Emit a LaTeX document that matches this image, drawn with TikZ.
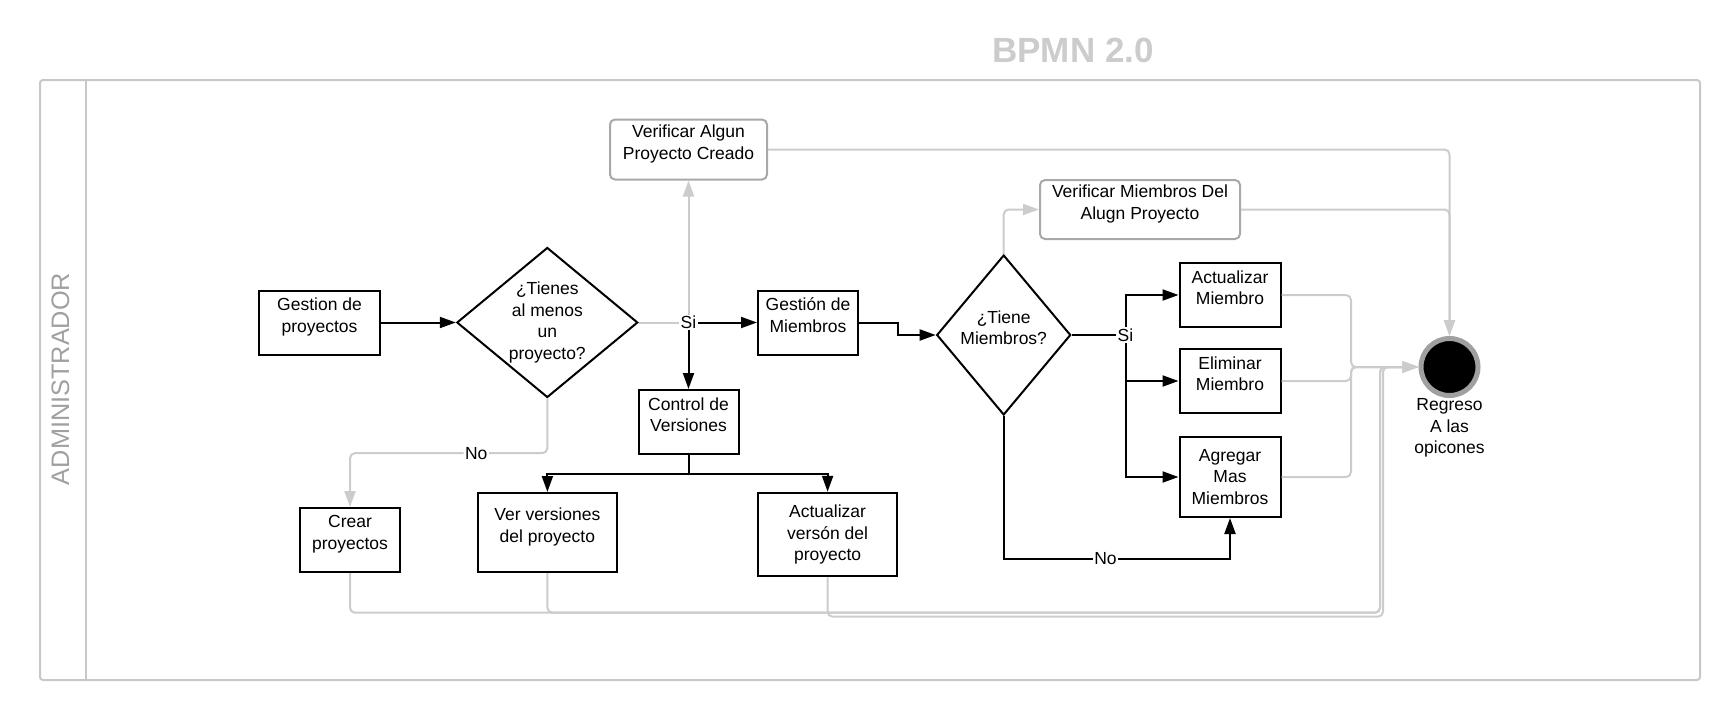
\documentclass[tikz,border=0pt]{standalone}
\usepackage{fontspec}
\setmainfont{Liberation Sans}
\usetikzlibrary{shapes.geometric,arrows.meta}
\definecolor{lanegray}{HTML}{C8C8C8}
\definecolor{linegray}{HTML}{CCCCCC}
\definecolor{boxgray}{HTML}{A8A8A8}
\definecolor{ringgray}{HTML}{A0A0A0}
\definecolor{titlegray}{HTML}{CCCCCC}
\tikzset{
  task/.style={rectangle, draw=black, line width=2pt, align=center, inner sep=0pt,
    font=\fontsize{17.5}{21.5}\selectfont},
  twoline/.style={text depth=15pt},
  check/.style={task, twoline, draw=boxgray, rounded corners=5pt},
  gate/.style={diamond, draw=black, line width=2pt, align=center, inner sep=0pt,
    font=\fontsize{17.5}{21.5}\selectfont},
  flow/.style={draw=black, line width=2pt, -{Triangle[length=16pt,width=11pt]}},
  back/.style={draw=linegray, line width=2pt, rounded corners=5pt,
    -{Triangle[length=16pt,width=11pt]}},
  tag/.style={fill=white, inner sep=1.5pt, font=\fontsize{17.5}{21.5}\selectfont}
}
\begin{document}
\begin{tikzpicture}[x=10pt,y=10pt]
\useasboundingbox (0,0) rectangle (172.2,-72);
% pool and lane
\draw [lanegray, line width=2pt, rounded corners=3pt] (4.0,-8.0) rectangle (170.0,-68.0);
\draw [lanegray, line width=2pt] (8.55,-8.0) -- (8.55,-68.0);
\node [rotate=90, text=ringgray, font=\fontsize{25.3}{29}\selectfont] (lane) at (6.05,-37.9) {ADMINISTRADOR};
\node [anchor=base, text=titlegray, font=\bfseries\fontsize{35}{42}\selectfont] (title) at (107.3,-6.27) {BPMN 2.0};
% tasks and gateways
\node [task, twoline, minimum width=121pt, minimum height=64pt] (gp) at (31.95,-32.25) {Gestion de\\proyectos};
\node [gate, aspect=1.2, minimum width=181pt, minimum height=150pt] (d1) at (54.73,-32.25) {¿Tienes\\al menos\\un\\proyecto?};
\coordinate (si1) at (68.85,-32.25);
\node [task, twoline, minimum width=100pt, minimum height=64pt] (gm) at (80.8,-32.25) {Gestión de\\Miembros};
\node [check, minimum width=157pt, minimum height=60pt] (va) at (68.85,-14.95) {Verificar Algun\\Proyecto Creado};
\node [task, twoline, minimum width=100pt, minimum height=64pt] (cv) at (68.85,-42.2) {Control de\\Versiones};
\node [task, twoline, minimum width=139.5pt, minimum height=79pt] (vv) at (54.74,-53.25) {Ver versiones\\del proyecto};
\node [task, minimum width=139.5pt, minimum height=83.5pt] (av) at (82.76,-53.45) {Actualizar\\versón del\\proyecto};
\node [task, twoline, minimum width=100pt, minimum height=64pt] (cp) at (35.0,-54.0) {Crear\\proyectos};
\node [gate, twoline, aspect=0.84, minimum width=134pt, minimum height=160pt] (d2) at (100.37,-33.5) {¿Tiene\\Miembros?};
\coordinate (si2) at (112.55,-33.5);
\node [check, minimum width=200pt, minimum height=59pt] (vm) at (114.0,-20.95) {Verificar Miembros Del\\Alugn Proyecto};
\node [task, twoline, minimum width=101pt, minimum height=64pt] (am) at (123.0,-29.5) {Actualizar\\Miembro};
\node [task, twoline, minimum width=101pt, minimum height=64pt] (em) at (123.0,-38.1) {Eliminar\\Miembro};
\node [task, minimum width=101pt, minimum height=80pt] (ag) at (123.0,-47.7) {Agregar\\Mas\\Miembros};
\node [circle, draw=ringgray, fill=black, line width=5pt, minimum size=57pt, inner sep=0pt] (fin) at (144.95,-36.7) {};
\node [align=center, font=\fontsize{17.5}{21.5}\selectfont] (finlbl) at (144.95,-42.8) {Regreso\\A las\\opicones};
% gray return flows
\draw [back, -] (d1.east) -- (si1);
\draw [back] (si1) -- (va);
\draw [back] (d1.south) -- ++(0,-5.47) -| node [tag, pos=0.18] {No} (cp.north);
\draw [back] (d2.north) |- (vm.west);
\draw [back] (va.east) -| (fin.north);
\draw [back] (vm.east) -| (fin.north);
\draw [back] (am.east) -- ++(6.95,0) |- (fin.west);
\draw [back] (em.east) -- ++(6.95,0) |- (fin.west);
\draw [back] (ag.east) -- ++(6.95,0) |- (fin.west);
\draw [back] (cp.south) -- (35.0,-61.27) -| (138.0,-36.7) -- (fin.west);
\draw [back] (vv.south) -- (54.74,-61.27) -| (138.0,-36.7) -- (fin.west);
\draw [back] (av.south) -- (82.76,-61.67) -| (138.3,-36.7) -- (fin.west);
% black sequence flows
\draw [flow] (gp) -- (d1);
\draw [flow] (si1) -- (gm);
\draw [flow] (si1) -- (cv);
\draw [flow] (cv.south) -- ++(0,-1.87) -| (vv.north);
\draw [flow] (cv.south) -- ++(0,-1.87) -| (av.north);
\draw [flow] (gm.east) -- ++(3.87,0) |- (d2.west);
\draw [line width=2pt] (d2.east) -- (si2);
\draw [flow] (si2) |- (am.west);
\draw [flow] (si2) |- (em.west);
\draw [flow] (si2) |- (ag.west);
\draw [flow] (d2.south) -- ++(0,-14.3) -| node [tag, pos=0.225] {No} (ag.south);
% branch labels
\node [tag] (s1) at (si1) {Si};
\node [tag] (s2) at (si2) {Si};
\end{tikzpicture}
\end{document}
